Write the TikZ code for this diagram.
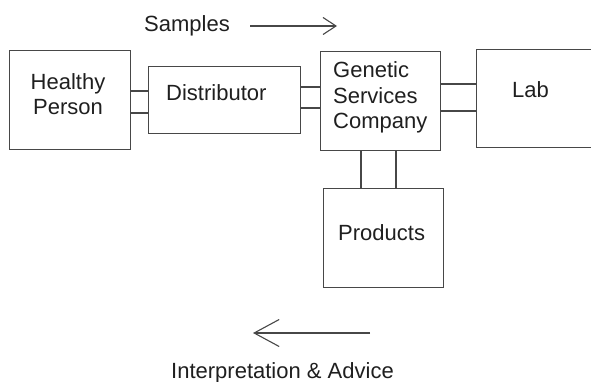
\documentclass[tikz,border=0pt]{standalone}
\usepackage{fontspec}
\setmainfont{Liberation Sans}
\usetikzlibrary{arrows.meta}
\begin{document}
\begin{tikzpicture}[x=1pt,y=-1pt,
  box/.style={draw=black!72,line width=1.3pt,rectangle,inner sep=0pt,anchor=north west},
  lbl/.style={font=\fontsize{22}{25}\selectfont,text=black!88,inner sep=0pt,anchor=base west},
  link/.style={draw=black!72,line width=1.3pt},
  flow/.style={draw=black!72,line width=1.1pt}]
\useasboundingbox (0,0) rectangle (591,382);
\clip (0,0) rectangle (591,382);
% boxes
\node[box,minimum width=121pt,minimum height=99pt] (hp) at (9,50) {};
\node[box,minimum width=152pt,minimum height=67pt] (dist) at (148,66) {};
\node[box,minimum width=120pt,minimum height=99pt] (gen) at (320,51) {};
\node[box,minimum width=130pt,minimum height=98pt] (lab) at (476,49) {};
\node[box,minimum width=120pt,minimum height=99pt] (prod) at (323,188) {};
% labels
\node[lbl,anchor=base] (t1) at (68,90) {Healthy};
\node[lbl,anchor=base] (t2) at (68,115) {Person};
\node[lbl] (t3) at (166,101) {Distributor};
\node[lbl] (t4) at (333,78) {Genetic};
\node[lbl] (t5) at (333,104) {Services};
\node[lbl] (t6) at (333,129) {Company};
\node[lbl] (t7) at (512,98) {Lab};
\node[lbl] (t8) at (338,240) {Products};
\node[lbl] (t9) at (144,32) {Samples};
\node[lbl] (t10) at (171,378) {Interpretation \& Advice};
% connectors
\draw[link] (hp.east |- 0,91) -- (dist.west |- 0,91);
\draw[link] (hp.east |- 0,113) -- (dist.west |- 0,113);
\draw[link] (dist.east |- 0,87) -- (gen.west |- 0,87);
\draw[link] (dist.east |- 0,108) -- (gen.west |- 0,108);
\draw[link] (gen.east |- 0,84) -- (lab.west |- 0,84);
\draw[link] (gen.east |- 0,111) -- (lab.west |- 0,111);
\draw[link] (gen.south -| 361,0) -- (prod.north -| 361,0);
\draw[link] (gen.south -| 396,0) -- (prod.north -| 396,0);
% flow arrows
\coordinate (s1) at (250,26);
\coordinate (s2) at (337,26);
\coordinate (a1) at (370,333);
\coordinate (a2) at (253,333);
\draw[flow,-{Straight Barb[length=13pt,width=17pt,line width=1.1pt]}] (s1) -- (s2);
\draw[flow,-{Straight Barb[length=25pt,width=27pt,line width=1.1pt]}] (a1) -- (a2);
\end{tikzpicture}
\end{document}
